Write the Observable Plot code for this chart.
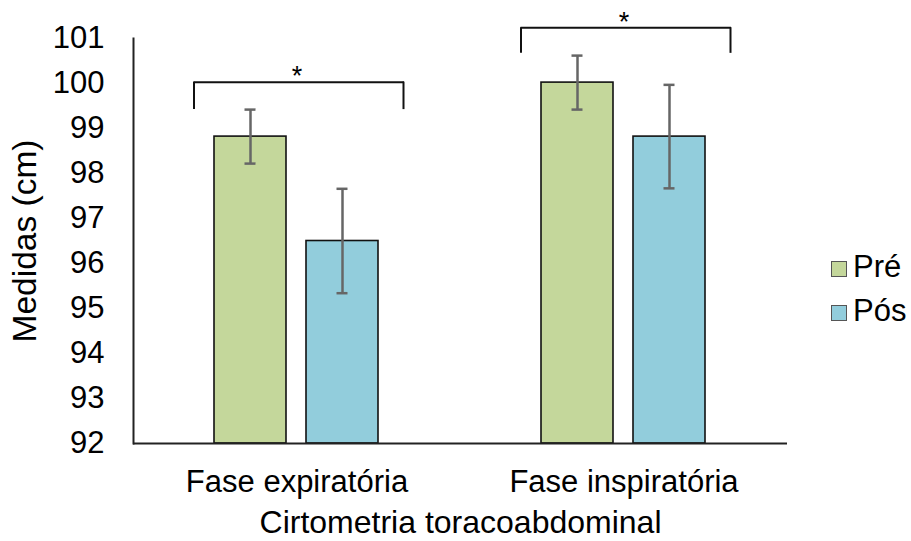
<!DOCTYPE html>
<html>
<head>
<meta charset="utf-8">
<script src="https://cdn.jsdelivr.net/npm/d3@7"></script>
<script src="https://cdn.jsdelivr.net/npm/@observablehq/plot@0.6"></script>
<style>
  html, body { margin: 0; padding: 0; background: #fff; }
  #wrap { position: relative; width: 911px; height: 541px; font-family: "Liberation Sans", Arial, sans-serif; }
  .leg { position: absolute; left: 831px; display: flex; align-items: baseline; font-size: 31px; line-height: 32px; color: #000; }
  .sw { width: 16px; height: 16px; box-sizing: border-box; border: 1px solid #555; margin-right: 6px; }
</style>
</head>
<body>
<div id="wrap"></div>
<script>
const phases = ["Fase expiratória", "Fase inspiratória"];
const periods = ["Pré", "Pós"];
const preMeans = [98.82, 100.02];
const posMeans = [96.5, 98.82];
const preErrors = [0.6, 0.6];
const posErrors = [1.16, 1.15];
const yTicks = [92, 93, 94, 95, 96, 97, 98, 99, 100, 101];
const bracketTops = [100.03, 101.24];
const bracketBottoms = [99.42, 100.67];
const significance = ["*", "*"];
const colors = ["#C4D79B", "#92CDDC"];

const rows = [];
phases.forEach((phase, i) => {
  rows.push({phase, period: periods[0], mean: preMeans[i], err: preErrors[i]});
  rows.push({phase, period: periods[1], mean: posMeans[i], err: posErrors[i]});
});
const brackets = phases.map((phase, i) => ({phase, top: bracketTops[i], bottom: bracketBottoms[i], mark: significance[i]}));

const chart = Plot.plot({
  width: 911,
  height: 541,
  marginLeft: 133,
  marginRight: 124,
  marginTop: 38,
  marginBottom: 98,
  style: {fontFamily: '"Liberation Sans", Arial, sans-serif', fontSize: "31px", background: "white", color: "black", overflow: "visible"},
  fx: {domain: phases, padding: 0},
  x: {domain: periods, paddingInner: 0.215, paddingOuter: 0.866, axis: null},
  y: {domain: [yTicks[0], yTicks[yTicks.length - 1]]},
  color: {domain: periods, range: colors},
  marks: [
    Plot.barY(rows, {fx: "phase", x: "period", y1: yTicks[0], y2: "mean", fill: "period", stroke: "#111", strokeWidth: 1.6}),
    Plot.ruleX(rows, {fx: "phase", x: "period", y1: d => d.mean - d.err, y2: d => d.mean + d.err, stroke: "#666", strokeWidth: 2.5}),
    Plot.tickY(rows, {fx: "phase", x: "period", y: d => d.mean + d.err, stroke: "#666", strokeWidth: 2.5, insetLeft: 30.5, insetRight: 30.5}),
    Plot.tickY(rows, {fx: "phase", x: "period", y: d => d.mean - d.err, stroke: "#666", strokeWidth: 2.5, insetLeft: 30.5, insetRight: 30.5}),
    Plot.ruleY([yTicks[0]], {stroke: "#222", strokeWidth: 2}),
    Plot.frame({anchor: "left", facetAnchor: "left", stroke: "#222", strokeWidth: 2}),
    Plot.ruleY(brackets, {fx: "phase", y: "top", insetLeft: 60.5, insetRight: 56, stroke: "#111", strokeWidth: 2}),
    Plot.ruleX(brackets, {fx: "phase", x: () => periods[0], y1: "bottom", y2: "top", dx: -56.5, stroke: "#111", strokeWidth: 2}),
    Plot.ruleX(brackets, {fx: "phase", x: () => periods[1], y1: "bottom", y2: "top", dx: 61, stroke: "#111", strokeWidth: 2}),
    Plot.text(brackets, {fx: "phase", y: "top", text: "mark", lineAnchor: "bottom", dy: 3, fontSize: 27, fill: "#000"}),
    Plot.axisY({ticks: yTicks, tickSize: 0, tickPadding: 29, tickFormat: d => String(d), fontSize: 31, label: null}),
    Plot.axisY({ticks: [], tickSize: 0, fontSize: 33.5, label: "Medidas (cm)", labelAnchor: "center", labelOffset: 121, labelArrow: "none"}),
    Plot.axisFx({anchor: "bottom", tickSize: 0, tickPadding: 26, fontSize: 31, label: null}),
    Plot.axisFx({anchor: "bottom", ticks: [], tickSize: 0, fontSize: 32, label: "Cirtometria toracoabdominal", labelAnchor: "center", labelOffset: 89, labelArrow: "none"})
  ]
});

const wrap = document.getElementById("wrap");
wrap.appendChild(chart);
const legendTops = [251, 295];
periods.forEach((p, i) => {
  const item = document.createElement("div");
  item.className = "leg";
  item.style.top = legendTops[i] + "px";
  const sw = document.createElement("span");
  sw.className = "sw";
  sw.style.background = colors[i];
  const t = document.createElement("span");
  t.textContent = p;
  item.appendChild(sw);
  item.appendChild(t);
  wrap.appendChild(item);
});
</script>
</body>
</html>
